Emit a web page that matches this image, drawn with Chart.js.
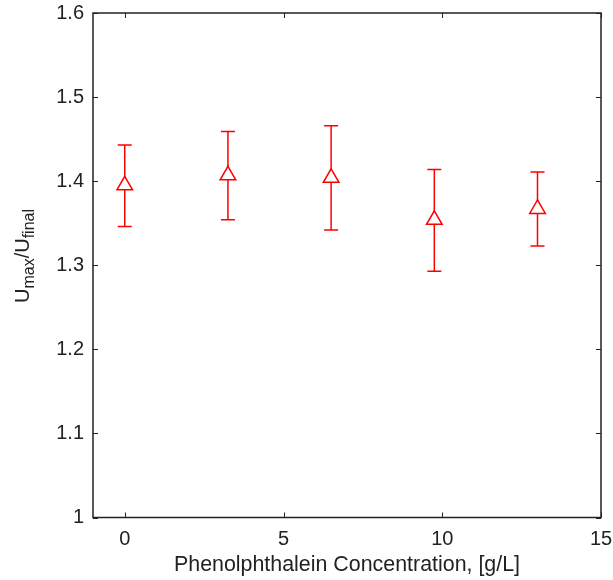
<!DOCTYPE html>
<html>
<head>
<meta charset="utf-8">
<script src="https://cdn.jsdelivr.net/npm/chart.js@4.4.1/dist/chart.umd.min.js"></script>
<style>
  html, body { margin: 0; padding: 0; background: #fff; }
  #wrap { width: 613px; height: 580px; }
</style>
</head>
<body>
<div id="wrap"><canvas id="umaxChart" width="613" height="580"></canvas></div>
<script>
// data
const concentration = [0, 3.25, 6.5, 9.75, 13];
const ratioMean = [1.395, 1.407, 1.404, 1.354, 1.367];
const ratioUpper = [1.443, 1.459, 1.466, 1.414, 1.411];
const ratioLower = [1.346, 1.354, 1.342, 1.293, 1.323];
const xTickLabels = [0, 5, 10, 15];
const yTickLabels = [1, 1.1, 1.2, 1.3, 1.4, 1.5, 1.6];

const axisColor = "#222222";
const markColor = "#ff0000";
const fontFamily = "'Liberation Sans', Arial, sans-serif";

// error bars drawn under the markers
const errorBars = {
    id: "errorBars",
    beforeDatasetsDraw(chart) {
        const { ctx, scales: { x, y } } = chart;
        ctx.save();
        ctx.strokeStyle = markColor;
        ctx.lineWidth = 1.5;
        concentration.forEach((c, i) => {
            const px = x.getPixelForValue(c);
            const top = y.getPixelForValue(ratioUpper[i]);
            const bot = y.getPixelForValue(ratioLower[i]);
            ctx.beginPath();
            ctx.moveTo(px, top);
            ctx.lineTo(px, bot);
            ctx.moveTo(px - 7, top);
            ctx.lineTo(px + 7, top);
            ctx.moveTo(px - 7, bot);
            ctx.lineTo(px + 7, bot);
            ctx.stroke();
        });
        ctx.restore();
    },
};

// matlab style box with inward ticks on all four sides
const boxTicks = {
    id: "boxTicks",
    afterDraw(chart) {
        const { ctx, chartArea: a, scales: { x, y } } = chart;
        const len = 5;
        ctx.save();
        ctx.strokeStyle = axisColor;
        ctx.lineWidth = 1.5;
        ctx.strokeRect(a.left, a.top, a.right - a.left, a.bottom - a.top);
        ctx.lineWidth = 1;
        ctx.beginPath();
        xTickLabels.forEach(v => {
            const px = Math.round(x.getPixelForValue(v)) + 0.5;
            ctx.moveTo(px, a.bottom); ctx.lineTo(px, a.bottom - len);
            ctx.moveTo(px, a.top); ctx.lineTo(px, a.top + len);
        });
        yTickLabels.forEach(v => {
            const py = Math.round(y.getPixelForValue(v)) + 0.5;
            ctx.moveTo(a.left, py); ctx.lineTo(a.left + len, py);
            ctx.moveTo(a.right, py); ctx.lineTo(a.right - len, py);
        });
        ctx.stroke();
        ctx.restore();
    },
};

// y title with subscripts: U_max/U_final
const yTitle = {
    id: "yTitle",
    afterDraw(chart) {
        const { ctx } = chart;
        const parts = [
            { t: "U", size: 20, dy: 0 },
            { t: "max", size: 16, dy: 5 },
            { t: "/U", size: 20, dy: 0 },
            { t: "final", size: 16, dy: 5 },
        ];
        ctx.save();
        ctx.fillStyle = axisColor;
        ctx.textBaseline = "alphabetic";
        let total = 0;
        parts.forEach(p => {
            ctx.font = p.size + "px " + fontFamily;
            p.w = ctx.measureText(p.t).width;
            total += p.w;
        });
        ctx.translate(29, 256);
        ctx.rotate(-Math.PI / 2);
        let cx = -total / 2;
        parts.forEach(p => {
            ctx.font = p.size + "px " + fontFamily;
            ctx.fillText(p.t, cx, p.dy);
            cx += p.w;
        });
        ctx.restore();
    },
};

const ctx = document.getElementById("umaxChart").getContext("2d");
const umaxChart = new Chart(ctx, {
    type: "scatter",
    data: {
        datasets: [{
            label: "Umax/Ufinal",
            data: concentration.map((c, i) => ({ x: c, y: ratioMean[i] })),
            pointStyle: "triangle",
            pointRadius: 9,
            pointHoverRadius: 9,
            borderColor: markColor,
            backgroundColor: "#ffffff",
            borderWidth: 1.5,
        }],
    },
    options: {
        responsive: false,
        animation: false,
        devicePixelRatio: 1,
        layout: { padding: { left: 0, right: 12, top: 13, bottom: 0 } },
        plugins: {
            legend: { display: false },
            tooltip: { enabled: false },
        },
        scales: {
            x: {
                type: "linear",
                min: -1,
                max: 15,
                afterBuildTicks(scale) {
                    scale.ticks = xTickLabels.map(v => ({ value: v }));
                },
                afterFit(scale) {
                    scale.height = 62.5;
                    scale.paddingLeft = 0;
                    scale.paddingRight = 0;
                },
                grid: { display: false, drawTicks: false },
                border: { display: false },
                ticks: {
                    padding: 10,
                    color: axisColor,
                    font: { family: fontFamily, size: 20 },
                    maxRotation: 0,
                },
                title: {
                    display: true,
                    text: "Phenolphthalein Concentration, [g/L]",
                    color: axisColor,
                    font: { family: fontFamily, size: 21.4 },
                    padding: { top: 0, bottom: 2 },
                },
            },
            y: {
                min: 1,
                max: 1.6,
                afterBuildTicks(scale) {
                    scale.ticks = yTickLabels.map(v => ({ value: v }));
                },
                afterFit(scale) {
                    scale.width = 93;
                    scale.paddingTop = 0;
                    scale.paddingBottom = 0;
                },
                grid: { display: false, drawTicks: false },
                border: { display: false },
                ticks: {
                    padding: 9,
                    color: axisColor,
                    font: { family: fontFamily, size: 20 },
                    callback: v => String(v),
                },
            },
        },
    },
    plugins: [errorBars, boxTicks, yTitle],
});
</script>
</body>
</html>
